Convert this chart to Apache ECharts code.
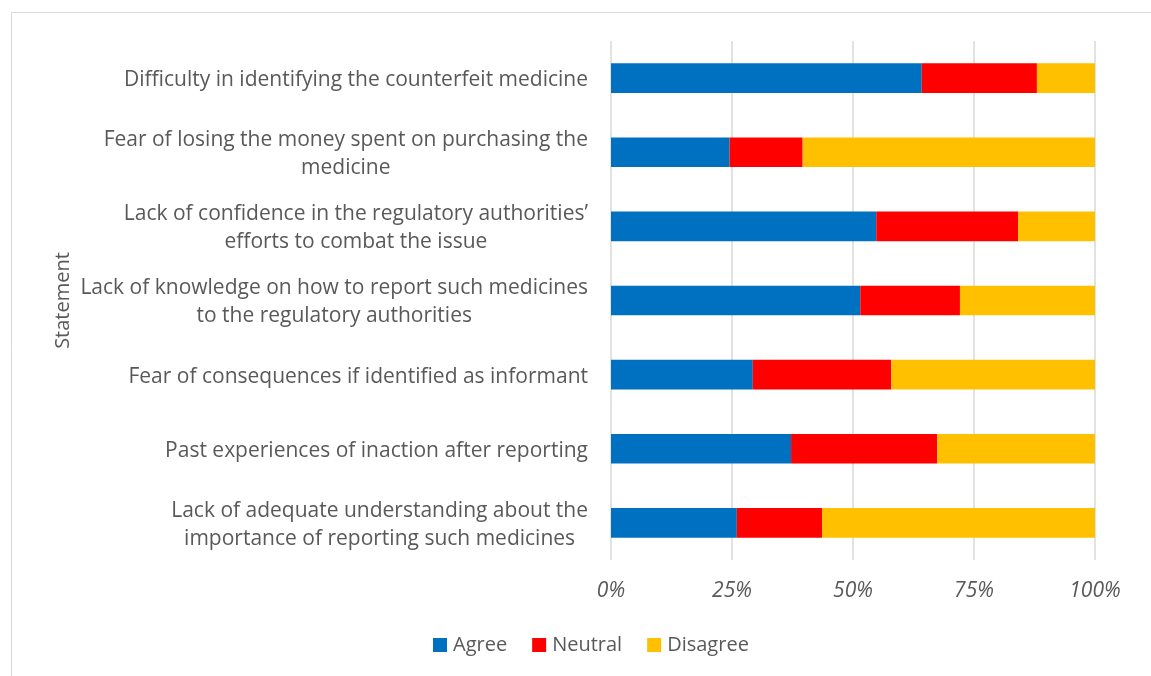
<!DOCTYPE html>
<html>
<head>
<meta charset="utf-8">
<script src="https://cdn.jsdelivr.net/npm/echarts@6/dist/echarts.min.js"></script>
<style>
  html, body { margin: 0; padding: 0; background: #ffffff; }
  #chart { width: 1151px; height: 676px; }
</style>
</head>
<body>
<div id="chart"></div>
<script>
// Reasons for not reporting counterfeit medicines, share of responses (%)
const statements = [
  'Difficulty in identifying the counterfeit medicine',
  'Fear of losing the money spent on purchasing the\nmedicine',
  'Lack of confidence in the regulatory authorities\u2019\nefforts to combat the issue',
  'Lack of knowledge on how to report such medicines\nto the regulatory authorities',
  'Fear of consequences if identified as informant',
  'Past experiences of inaction after reporting',
  'Lack of adequate understanding about the\nimportance of reporting such medicines'
];
const agree    = [64.2, 24.5, 54.8, 51.5, 29.3, 37.2, 26.0];
const neutral  = [23.8, 15.1, 29.3, 20.6, 28.6, 30.2, 17.6];
const disagree = [12.0, 60.4, 15.9, 27.9, 42.1, 32.6, 56.4];
const seriesNames = ['Agree', 'Neutral', 'Disagree'];
const seriesColors = ['#0070C0', '#FF0000', '#FFC000'];
const tickValues = [0, 25, 50, 75, 100];

const FONT = '"Open Sans", "Noto Sans", sans-serif';
const GRAY = '#595959';

const chart = echarts.init(document.getElementById('chart'), null, { renderer: 'canvas' });

const seriesData = [agree, neutral, disagree];

chart.setOption({
  backgroundColor: '#ffffff',
  animation: false,
  graphic: [{
    type: 'rect',
    shape: { x: 11.5, y: 12.5, width: 1300, height: 800 },
    style: { fill: 'none', stroke: '#d9d9d9', lineWidth: 1 },
    silent: true,
    z: -10
  }],
  grid: { left: 611, right: 56, top: 41, bottom: 116, containLabel: false },
  legend: {
    data: seriesNames,
    bottom: 16,
    left: 428,
    itemWidth: 14,
    itemHeight: 14,
    itemGap: 25,
    icon: 'rect',
    textStyle: { fontFamily: FONT, fontSize: 20, color: GRAY, padding: [0, 0, 0, 1] }
  },
  xAxis: {
    type: 'value',
    min: 0,
    max: 100,
    interval: 25,
    axisLine: { show: false },
    axisTick: { show: false },
    splitLine: { show: true, lineStyle: { color: '#d9d9d9', width: 1.5 } },
    axisLabel: {
      margin: 21,
      fontFamily: FONT,
      fontSize: 21,
      fontStyle: 'italic',
      color: GRAY,
      formatter: v => (tickValues.indexOf(v) >= 0 ? v + '%' : '')
    }
  },
  yAxis: {
    type: 'category',
    data: statements,
    inverse: true,
    name: 'Statement',
    nameLocation: 'middle',
    nameGap: 538,
    nameRotate: 90,
    nameTextStyle: { fontFamily: FONT, fontSize: 20, color: GRAY },
    axisLine: { show: false },
    axisTick: { show: false },
    axisLabel: {
      margin: 23,
      padding: [4, 0, 0, 0],
      fontFamily: FONT,
      fontSize: 21,
      color: GRAY,
      lineHeight: 28,
      formatter: v => v.split('\n').map(l => '{c|' + l + '}').join('\n'),
      rich: { c: { align: 'center', fontFamily: FONT, fontSize: 21, color: GRAY, lineHeight: 28 } }
    }
  },
  series: seriesNames.map((name, i) => ({
    name: name,
    type: 'bar',
    stack: 'total',
    barWidth: '40%',
    data: seriesData[i],
    itemStyle: { color: seriesColors[i] }
  }))
});
</script>
</body>
</html>
